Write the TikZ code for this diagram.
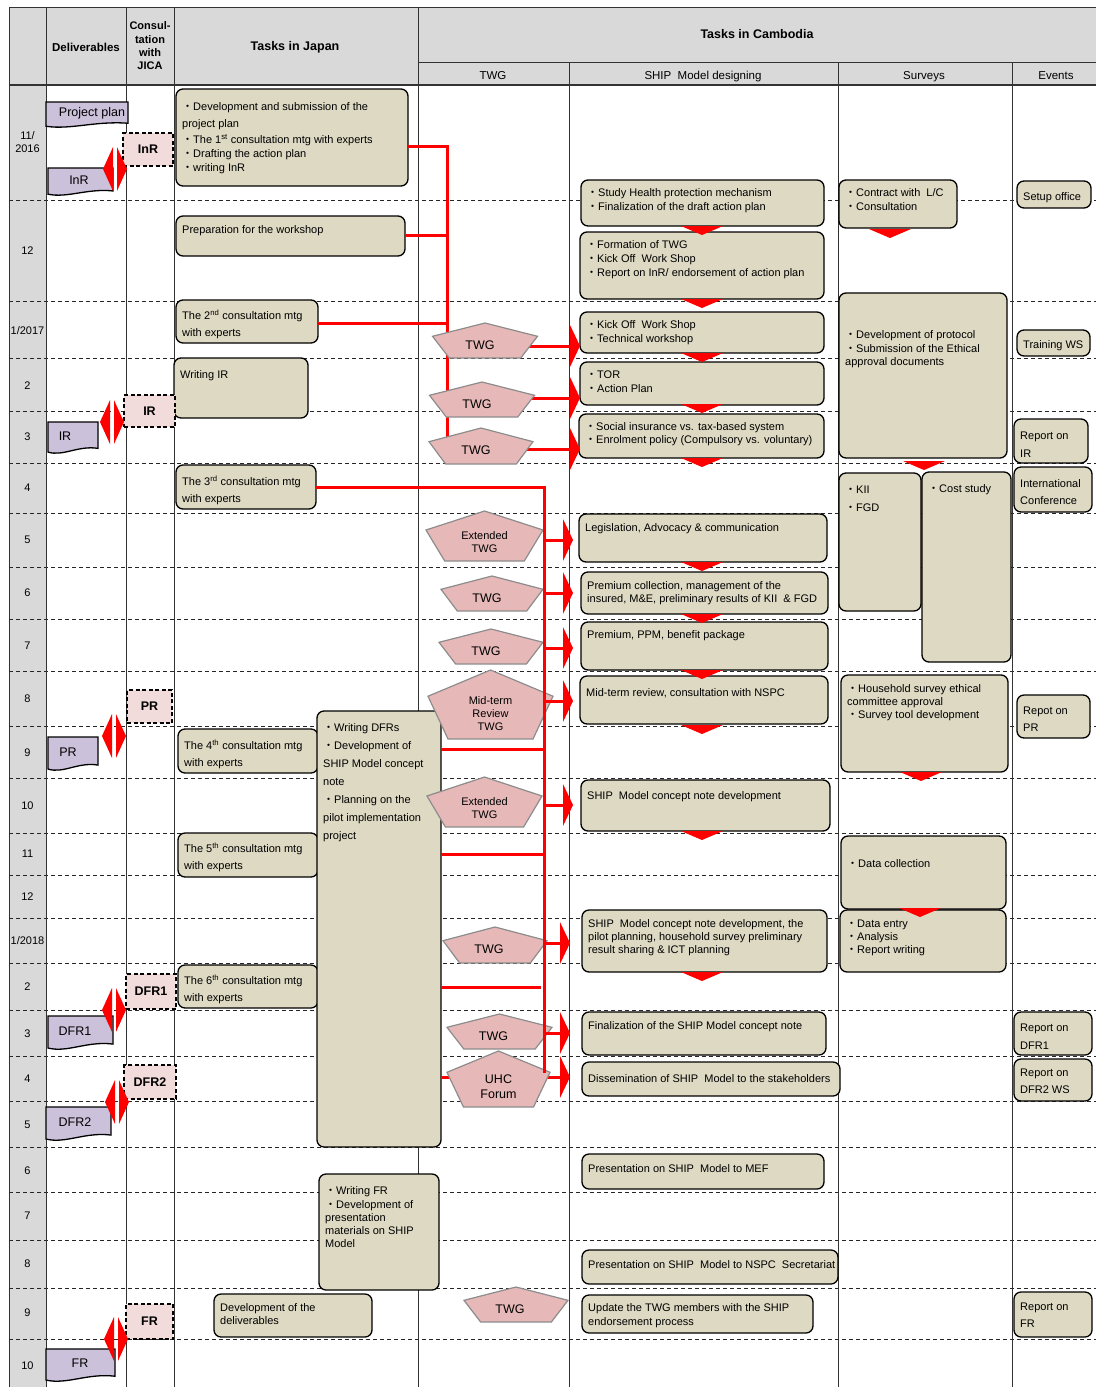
\documentclass[tikz,border=0pt]{standalone}
\usepackage{fontspec}
\setmainfont{Liberation Sans}
\newfontfamily\cjkfont{Noto Sans CJK JP}
\newcommand\bul{{\cjkfont ・}}
\definecolor{hdr}{HTML}{D9D9D9}
\definecolor{boxfill}{HTML}{DDD9C3}
\definecolor{delfill}{HTML}{CCC1DA}
\definecolor{jfill}{HTML}{F2DCDB}
\definecolor{pfill}{HTML}{E6B9B8}
\definecolor{pedge}{HTML}{8C8C8C}
\newcommand\taskbox[8][]{%
  \node[tbox,minimum width={#5-#3},minimum height={#6-#4}] (#2) at ({(#3+#5)/2},{(#4+#6)/2}) {};
  \node[ttext,#1] (#2t) at ({#3+6},{#7-6.5}) {\rule{0pt}{10pt}#8};}
\newcommand\pentbox[8][]{%
  \draw[pentst] (#3,#4) -- ({#3+#5/2},{#4+0.38*#6}) -- ({#3+0.34*#5},{#4+#6}) -- ({#3-0.34*#5},{#4+#6}) -- ({#3-#5/2},{#4+0.38*#6}) -- cycle;
  \node[ptext,#1] (#2) at ({#3+#7},{#4+0.63*#6}) {#8};}
\newcommand\delivdoc[7]{%
  \draw[docst] (#2,#3) -- (#4,#3) -- ({#4},{#5-0.15*(#5-#3)}) .. controls ({#2+0.6*(#4-#2)},{#5-0.25*(#5-#3)}) and ({#2+0.3*(#4-#2)},{#5+0.12*(#5-#3)}) .. ({#2},{#5-0.03*(#5-#3)}) -- cycle;
  \node[dtext] (#1) at ({#6},{#3+0.45*(#5-#3)}) {#7};}
\newcommand\jicabox[6]{%
  \node[jbox,minimum width={#4-#2},minimum height={#5-#3}] (#1) at ({(#2+#4)/2},{(#3+#5)/2}) {#6};}
\newcommand\dblarrow[2]{%
  \fill[red] (#1,#2) -- ({#1+10},{#2-22}) -- ({#1+10},{#2+22}) -- cycle;
  \fill[red] ({#1+14},{#2-22}) -- ({#1+24},{#2}) -- ({#1+14},{#2+22}) -- cycle;}
\newcommand\downchev[2]{\fill[red] ({#1-21},#2) -- ({#1+21},#2) -- (#1,{#2+9}) -- cycle;}
\newcommand\arrowhd[1]{\fill[red] (#1) ++(0,-21) -- ++(10,21) -- ++(-10,21) -- cycle;}
\begin{document}
\begin{tikzpicture}[x=1pt,y=-1pt,
  tbox/.style={draw=black,line width=1.3pt,fill=boxfill,rounded corners=7pt,inner sep=0pt,outer sep=0pt},
  ttext/.style={inner sep=0pt,align=left,anchor=north west,font=\fontsize{11}{13.5}\selectfont},
  lhA/.style={font=\fontsize{11}{17}\selectfont},
  lhB/.style={font=\fontsize{11}{18}\selectfont},
  lhC/.style={font=\fontsize{11}{12.3}\selectfont},
  lhD/.style={font=\fontsize{11}{13}\selectfont},
  pentst/.style={draw=pedge,line width=1.2pt,fill=pfill},
  ptext/.style={inner sep=0pt,align=center,font=\fontsize{12.5}{15}\selectfont},
  psmall/.style={font=\fontsize{11}{13}\selectfont},
  docst/.style={draw=black,line width=1.3pt,fill=delfill},
  dtext/.style={inner sep=0pt,font=\fontsize{12.5}{14}\selectfont},
  jbox/.style={draw=black,line width=1.3pt,dash pattern=on 4pt off 2.5pt,fill=jfill,inner sep=0pt,outer sep=0pt,font=\bfseries\fontsize{12.5}{14}\selectfont},
  redln/.style={draw=red,line width=3pt},
  gridl/.style={draw=black!80,line width=1pt},
  dashl/.style={draw=black!85,line width=1pt,dash pattern=on 4pt off 3pt},
  hb/.style={inner sep=0pt,font=\bfseries\fontsize{11.5}{13}\selectfont},
  hs/.style={inner sep=0pt,anchor=base,font=\fontsize{11.5}{13}\selectfont},
  mlab/.style={inner sep=0pt,align=center,font=\fontsize{11}{13}\selectfont}]
\useasboundingbox (0,0) rectangle (1096,1387);
% backgrounds
\fill[hdr] (9,7) rectangle (1096,85);
\fill[hdr] (9,85) rectangle (46,1387);
% dashed rows
\foreach \yy in {200,301,358,411,463,513,567,619,671,726,778,833,875,918,963,1010,1056,1101,1147,1192,1240,1288,1339}
  {\draw[dashl] (9,\yy) -- (1096,\yy);}
% grid
\draw[gridl] (9,7) -- (1096,7);
\draw[gridl] (418,62) -- (1096,62);
\draw[gridl,line width=1.3pt] (9,85) -- (1096,85);
\foreach \xx in {9,46,126.5,174,418} {\draw[gridl] (\xx,7) -- (\xx,1387);}
\foreach \xx in {569,838,1012} {\draw[gridl] (\xx,62) -- (\xx,1387);}
% header texts
\node[hb] (hDel) at (86,47) {Deliverables};
\node[hb,align=center,font=\bfseries\fontsize{11}{13.3}\selectfont] (hCon) at (150,46) {Consul-\\tation\\with\\JICA};
\node[hb,font=\bfseries\fontsize{12.5}{14}\selectfont] (hJap) at (295,47) {Tasks in Japan};
\node[hb,font=\bfseries\fontsize{12.5}{14}\selectfont] (hCam) at (757,34) {Tasks in Cambodia};
\node[hs] (hTWG) at (493,79) {TWG};
\node[hs] (hSHIP) at (703,79) {SHIP\ \ Model designing};
\node[hs] (hSur) at (924,79) {Surveys};
\node[hs] (hEv) at (1056,79) {Events};
% month labels
\node[mlab] (m0) at (27.5,142.5) {11/\\2016};
\foreach \yy/\lab in {251/12,331/1\slash 2017,386/2,437/3,488/4,540/5,593/6,646/7,699/8,753/9,806/10,854/11,897/12,941/1\slash 2018,987/2,1034/3,1079/4,1125/5,1171/6,1216/7,1264/8,1313/9,1366/10}
  {\node[mlab] (m\yy) at (27.5,\yy) {\lab};}
% ---------- Japan tasks
\taskbox{jA}{176}{89}{408}{186}{107}{\bul Development and submission of the\\[3.5pt]project plan\\[2.5pt]\bul The 1\textsuperscript{st} consultation mtg with experts\\\bul Drafting the action plan\\[0.5pt]\bul writing InR}
\taskbox{jB}{176}{216}{405}{256}{230}{Preparation for the workshop}
\taskbox[lhA]{jC}{176}{300}{318}{343}{316}{The 2\textsuperscript{nd} consultation mtg\\with experts}
\taskbox{jD}{174}{358}{308}{418}{375}{Writing IR}
\taskbox[lhA]{jE}{176}{465}{316}{509}{482}{The 3\textsuperscript{rd} consultation mtg\\with experts}
\taskbox[lhA]{jF}{178}{729}{318}{773}{746}{The 4\textsuperscript{th} consultation mtg\\with experts}
\taskbox[lhA]{jG}{178}{833}{318}{877}{849}{The 5\textsuperscript{th} consultation mtg\\with experts}
\taskbox[lhA]{jH}{178}{965}{318}{1008}{981}{The 6\textsuperscript{th} consultation mtg\\with experts}
% ---------- red connectors group 1 (behind)
\coordinate (g1a) at (447,146);
\coordinate (g1b) at (447,235);
\coordinate (g1c) at (447,323);
\coordinate (g1d) at (447,438);
\draw[redln] (jA.east |- g1a) -- (g1a) -- (g1d);
\draw[redln] (jB.east |- g1b) -- (g1b);
\draw[redln] (jC.east |- g1c) -- (g1c);
\taskbox[lhB]{jI}{317}{711}{441}{1147}{728}{\bul Writing DFRs\\\bul Development of\\SHIP Model concept\\note\\\bul Planning on the\\pilot implementation\\project}
\taskbox{jJ}{319}{1174}{439}{1290}{1191}{\bul Writing FR\\[-0.2pt]\bul Development of\\[-0.2pt]presentation\\[-0.2pt]materials on SHIP\\[-0.2pt]Model}
\taskbox[lhC]{jK}{214}{1294}{372}{1337}{1308}{Development of the\\deliverables}
% ---------- SHIP model boxes
\taskbox{sA}{581}{180}{824}{226}{193}{\bul Study Health protection mechanism\\\bul Finalization of the draft action plan}
\taskbox[font=\fontsize{11}{14}\selectfont]{sB}{580}{232}{824}{299}{245}{\bul Formation of TWG\\\bul Kick Off\ \ Work Shop\\\bul Report on InR/ endorsement of action plan}
\taskbox{sC}{580}{312}{824}{353}{325}{\bul Kick Off\ \ Work Shop\\\bul Technical workshop}
\taskbox{sD}{580}{362}{824}{405}{375}{\bul TOR\\\bul Action Plan}
\taskbox[lhD]{sE}{579}{414}{824}{458}{427}{\bul Social insurance vs. tax-based system\\\bul Enrolment policy (Compulsory vs. voluntary)}
\taskbox{sF}{579}{514}{827}{562}{528}{Legislation, Advocacy \& communication}
\taskbox[lhC]{sG}{581}{572}{828}{614}{586}{Premium collection, management of the\\insured, M\&E, preliminary results of KII\ \ \& FGD}
\taskbox{sH}{581}{622}{828}{670}{635}{Premium, PPM, benefit package}
\taskbox{sI}{580}{676}{828}{724}{693}{Mid-term review, consultation with NSPC}
\taskbox{sJ}{581}{780}{830}{831}{796}{SHIP\ \ Model concept note development}
\taskbox[lhD]{sK}{582}{910}{827}{972}{924}{SHIP\ \ Model concept note development, the\\pilot planning, household survey preliminary\\result sharing \& ICT planning}
\taskbox{sL}{582}{1012}{826}{1055}{1026}{Finalization of the SHIP Model concept note}
\taskbox{sM}{582}{1062}{840}{1096}{1079}{Dissemination of SHIP\ \ Model to the stakeholders}
\taskbox{sN}{582}{1154}{824}{1189}{1169}{Presentation on SHIP\ \ Model to MEF}
\taskbox{sO}{582}{1250}{838}{1284}{1265}{Presentation on SHIP\ \ Model to NSPC\ \ Secretariat}
\taskbox{sP}{582}{1295}{813}{1333}{1308}{Update the TWG members with the SHIP\\endorsement process}
% ---------- Surveys
\taskbox{vA}{839}{180}{957}{228}{193}{\bul Contract with\ \ L/C\\\bul Consultation}
\taskbox{vB}{839}{293}{1007}{458}{335}{\bul Development of protocol\\\bul Submission of the Ethical\\approval documents}
\taskbox[lhB]{vC}{839}{473}{921}{611}{490}{\bul KII\\\bul FGD}
\taskbox{vD}{922}{472}{1011}{662}{489}{\bul Cost study}
\taskbox[lhD]{vE}{841}{675}{1008}{772}{689}{\bul Household survey ethical\\committee approval\\\bul Survey tool development}
\taskbox{vF}{841}{836}{1006}{909}{864}{\bul Data collection}
\taskbox[lhD]{vG}{840}{910}{1006}{972}{924}{\bul Data entry\\\bul Analysis\\\bul Report writing}
% ---------- Events
\taskbox{eA}{1017}{181}{1091}{208}{197}{Setup office}
\taskbox{eB}{1017}{330}{1090}{356}{345}{Training WS}
\taskbox[lhB]{eC}{1014}{419}{1088}{463}{436}{Report on\\IR}
\taskbox[lhA]{eD}{1014}{467}{1092}{512}{484}{International\\Conference}
\taskbox[lhA]{eE}{1017}{695}{1090}{738}{711}{Repot on\\PR}
\taskbox[lhB]{eF}{1014}{1012}{1092}{1055}{1028}{Report on\\DFR1}
\taskbox[lhA]{eG}{1014}{1059}{1092}{1101}{1073}{Report on\\DFR2 WS}
\taskbox[lhA]{eH}{1014}{1292}{1092}{1337}{1307}{Report on\\FR}
% ---------- Deliverables
\delivdoc{dPP}{46}{102}{128}{127}{92}{Project plan}
\delivdoc{dInR}{48}{168}{113}{195}{79}{InR}
\delivdoc{dIR}{48}{422}{98}{453}{65}{IR}
\delivdoc{dPR}{48}{737}{98}{770}{68}{PR}
\delivdoc{dDFR1}{48}{1016}{113}{1049}{75}{DFR1}
\delivdoc{dDFR2}{46}{1107}{111}{1140}{75}{DFR2}
\delivdoc{dFR}{46}{1349}{115}{1381}{80}{FR}
% ---------- JICA consultations
\jicabox{kInR}{123}{133}{173}{166}{InR}
\jicabox{kIR}{124}{395}{175}{427}{IR}
\jicabox{kPR}{127}{690}{172}{723}{PR}
\jicabox{kDFR1}{126}{974}{176}{1009}{DFR1}
\jicabox{kDFR2}{124}{1065}{176}{1099}{DFR2}
\jicabox{kFR}{126}{1304}{173}{1339}{FR}
% ---------- arrows coordinates
\coordinate (h1) at (570,346);
\coordinate (h2) at (570,398);
\coordinate (h3) at (570,449);
\coordinate (h4) at (563,540);
\coordinate (h5) at (563,593);
\coordinate (h6) at (563,648);
\coordinate (h7) at (563,701);
\coordinate (h8) at (563,805);
\coordinate (h9) at (560,943);
\coordinate (h10) at (560,1033);
\coordinate (h11) at (560,1077);
\draw[redln] (jI.east |- h11) -- (h11);
\draw[redln] (485,346) -- (h1);
\draw[redln] (482,398) -- (h2);
\draw[redln] (481,449) -- (h3);
% ---------- pentagons
\pentbox{p1}{485}{323}{105}{35}{-5}{TWG}
\pentbox{p2}{482}{382}{105}{35}{-5}{TWG}
\pentbox{p3}{481}{428}{104}{36}{-5}{TWG}
\pentbox[psmall]{p4}{484.5}{511}{117}{50}{0}{Extended\\TWG}
\pentbox{p5}{492}{576}{102}{35}{-5}{TWG}
\pentbox{p6}{491}{629}{104}{35}{-5}{TWG}
\pentbox[psmall]{p7}{490.5}{670}{125}{69}{0}{Mid-term\\Review\\TWG}
\pentbox[psmall]{p8}{484.5}{777}{115}{50}{0}{Extended\\TWG}
\pentbox{p9}{495}{927}{104}{36}{-6}{TWG}
\pentbox{p10}{499.5}{1014}{105}{35}{-6}{TWG}
\pentbox{p11}{498.5}{1051}{103}{56}{0}{UHC\\Forum}
\pentbox{p12}{516}{1287}{104}{35}{-6}{TWG}
% ---------- red connectors group 2
\coordinate (g2a) at (544,487);
\coordinate (g2b) at (544,1073);
\coordinate (g2c) at (544,749);
\coordinate (g2d) at (544,854);
\coordinate (g2e) at (544,987);
\draw[redln] (jE.east |- g2a) -- (g2a) -- (g2b);
\draw[redln] (jI.east |- g2c) -- (g2c);
\draw[redln] (jI.east |- g2d) -- (g2d);
\draw[redln] (jI.east |- g2e) -- ([xshift=-3pt]g2e);
\foreach \h in {h4,h5,h6,h7,h8,h9,h10} {\draw[redln] (g2a |- \h) -- (\h);}
\foreach \h in {h1,h2,h3,h4,h5,h6,h7,h8,h9,h10,h11} {\arrowhd{\h}}
% ---------- chevrons
\foreach \yy in {226,299,353,404,458,562,614,670,725,831,972} {\downchev{702}{\yy}}
\downchev{890}{229}
\downchev{924}{461}
\downchev{921}{772}
\downchev{920}{908}
% ---------- double arrows
\dblarrow{103}{169}
\dblarrow{100}{422}
\dblarrow{102}{736}
\dblarrow{102}{1010}
\dblarrow{105}{1102}
\dblarrow{104}{1339}
\end{tikzpicture}
\end{document}
